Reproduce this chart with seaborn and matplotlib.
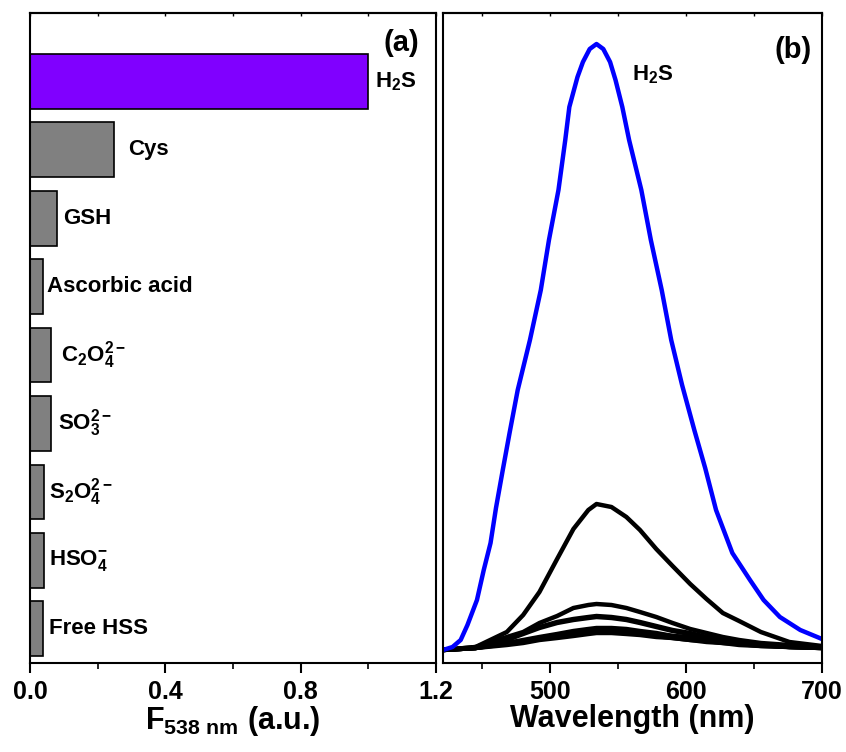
import numpy as np
import pandas as pd
import matplotlib
matplotlib.use("Agg")
import matplotlib.pyplot as plt
import seaborn as sns

# ---- panel (a): fluorescence at 538 nm ----
species = ['H2S', 'Cys', 'GSH', 'Ascorbic acid', 'C2O4', 'SO3', 'S2O4', 'HSO4', 'Free HSS']
species_labels = ['H$_2$S', 'Cys', 'GSH', 'Ascorbic acid', 'C$_2$O$_4^{2-}$',
                  'SO$_3^{2-}$', 'S$_2$O$_4^{2-}$', 'HSO$_4^{-}$', 'Free HSS']
f538 = [1.00, 0.247, 0.080, 0.037, 0.062, 0.062, 0.042, 0.042, 0.038]

# ---- panel (b): emission spectra ----
wl_h2s = [421, 428, 434, 439, 446, 451, 456, 460, 465, 470, 476, 485, 493, 499, 506,
          511, 514, 520, 524, 529, 534, 539, 544, 548, 553, 558, 567, 574, 582, 589,
          597, 606, 614, 622, 634, 647, 657, 669, 684, 700]
int_h2s = [0, 3, 10, 25, 50, 80, 107, 142, 180, 217, 260, 310, 360, 410, 460,
           510, 543, 573, 588, 601, 606, 601, 588, 570, 543, 510, 460, 410, 360, 310,
           265, 220, 182, 140, 97, 70, 50, 33, 20, 11]

wl_grid = [421, 445, 468, 480, 492, 505, 517, 528, 534, 545, 556, 566, 578, 590, 603,
           615, 627, 639, 655, 676, 700]
int_cys = [0, 3, 18, 35, 58, 91, 121, 140, 146, 143, 133, 120, 101, 84, 66, 51, 37, 29, 18, 8, 4]
int_gsh = [0, 3, 13, 18, 27, 34, 42, 45, 46, 45, 42, 38, 33, 27, 21, 17, 13, 10, 7, 5, 3]
int_c2o4 = [0, 2, 10, 17, 23, 28, 31, 33, 34, 33, 31, 28, 24, 20, 17, 13, 11, 8, 6, 4, 3]
int_so3 = [0, 2, 10, 16, 22, 27, 30, 32, 33, 32, 30, 27, 23, 19, 16, 13, 10, 8, 6, 4, 3]
int_s2o4 = [0, 2, 7, 10, 13, 16, 19, 21, 22, 22, 21, 19, 17, 14, 13, 11, 9, 7, 5, 3, 2]
int_hso4 = [0, 2, 7, 9, 12, 15, 18, 20, 21, 21, 20, 18, 16, 14, 12, 10, 8, 7, 5, 3, 2]
int_aa = [0, 2, 6, 8, 11, 13, 15, 17, 18, 18, 17, 16, 14, 12, 10, 9, 7, 6, 4, 3, 2]
int_free = [0, 2, 5, 7, 10, 12, 14, 16, 17, 17, 16, 15, 13, 12, 10, 8, 7, 5, 4, 3, 2]

sns.set_style('ticks')
plt.rcParams['font.family'] = ['Liberation Sans', 'DejaVu Sans']
plt.rcParams['font.weight'] = 'bold'
plt.rcParams['mathtext.fontset'] = 'custom'
plt.rcParams['mathtext.rm'] = 'Liberation Sans:bold'
plt.rcParams['mathtext.it'] = 'Liberation Sans:bold'
plt.rcParams['mathtext.bf'] = 'Liberation Sans:bold'
plt.rcParams['mathtext.default'] = 'rm'
plt.rcParams['axes.linewidth'] = 1.5
plt.rcParams['text.color'] = 'black'
plt.rcParams['axes.labelcolor'] = 'black'
plt.rcParams['xtick.color'] = 'black'
plt.rcParams['ytick.color'] = 'black'
plt.rcParams['axes.edgecolor'] = 'black'

fig = plt.figure(figsize=(8.46, 7.52), dpi=100)
ax1 = fig.add_axes([30 / 846, 89 / 752, 406 / 846, 650 / 752])
ax2 = fig.add_axes([443 / 846, 89 / 752, 379 / 846, 650 / 752])

# bars
bars_df = pd.DataFrame({'species': species, 'f538': f538})
bar_colors = ['#8000ff'] + ['#808080'] * (len(species) - 1)
sns.barplot(data=bars_df, x='f538', y='species', hue='species', palette=bar_colors,
            orient='h', width=0.8, edgecolor='black', linewidth=1.2, saturation=1,
            legend=False, ax=ax1)
label_pad = [0.02, 0.042, 0.018, 0.012, 0.03, 0.021, 0.014, 0.014, 0.018]
for i, (lab, v) in enumerate(zip(species_labels, f538)):
    ax1.text(v + label_pad[i], i, lab, ha='left', va='center', fontsize=16, fontweight='bold')

ax1.set_xlim(0, 1.2)
ax1.set_ylim(8.5, -1.0)
ax1.set_yticks([])
ax1.set_ylabel('')
ax1.set_xticks([0.0, 0.4, 0.8, 1.2])
ax1.set_xticklabels(['0.0', '0.4', '0.8', '1.2'])
ax1.set_xticks([0.2, 0.6, 1.0], minor=True)
ax1.set_xlabel('F$_{538\\ nm}$ (a.u.)', fontsize=22, fontweight='bold', labelpad=0)
ax1.text(0.958, 0.954, '(a)', transform=ax1.transAxes, ha='right', va='center',
         fontsize=21, fontweight='bold')

# spectra
black_curves = [int_cys, int_gsh, int_c2o4, int_so3, int_s2o4, int_hso4, int_aa, int_free]
for vals in black_curves:
    sns.lineplot(x=wl_grid, y=vals, color='black', lw=3.2, ax=ax2)
sns.lineplot(x=wl_h2s, y=int_h2s, color='#0000ff', lw=3.2, ax=ax2)
ax2.text(560, 575, 'H$_2$S', ha='left', va='center', fontsize=16, fontweight='bold')
ax2.text(0.974, 0.943, '(b)', transform=ax2.transAxes, ha='right', va='center',
         fontsize=21, fontweight='bold')

ax2.set_xlim(421, 700)
ax2.set_ylim(-13, 637)
ax2.set_yticks([])
ax2.set_xticks([500, 600, 700])
ax2.set_xticks([450, 550, 650], minor=True)
ax2.set_xlabel('Wavelength (nm)', fontsize=22, fontweight='bold', labelpad=0)

for ax in (ax1, ax2):
    for s in ax.spines.values():
        s.set_visible(True)
        s.set_linewidth(1.5)
        s.set_color('black')
    ax.tick_params(axis='x', which='major', direction='out', length=7, width=1.5,
                   labelsize=18, pad=5, colors='black')
    ax.tick_params(axis='x', which='minor', direction='out', length=4, width=1.2)
    for t in ax.get_xticklabels():
        t.set_fontweight('bold')
    top = ax.secondary_xaxis('top')
    top.set_xticks(ax.get_xticks())
    top.set_xticks(ax.get_xticks(minor=True), minor=True)
    top.tick_params(which='both', direction='in', length=2.5, width=1.0, labeltop=False)
    top.spines['top'].set_linewidth(1.5)

fig.savefig('out.png', dpi=100, facecolor='white')
